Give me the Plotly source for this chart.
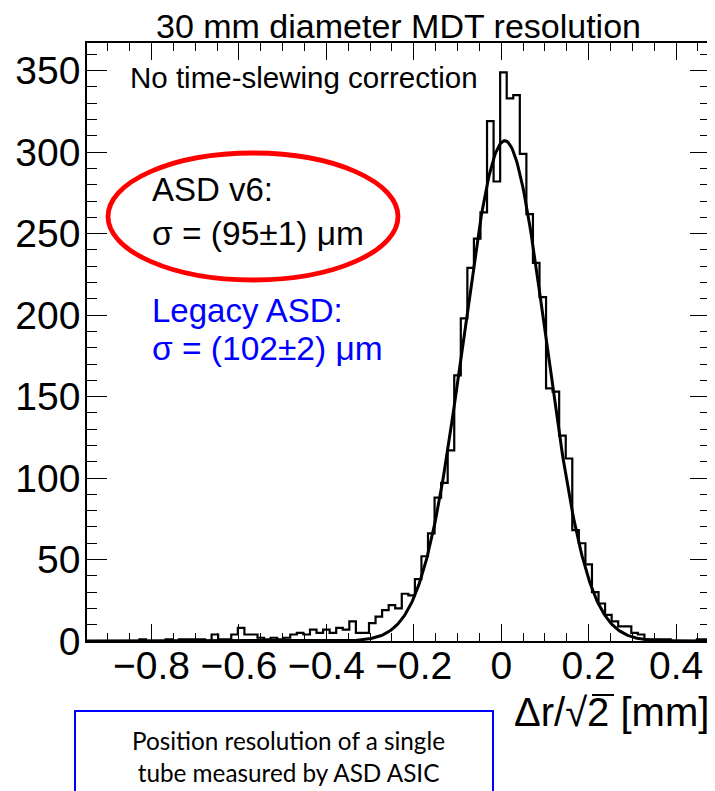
import numpy as np
import plotly.graph_objects as go

# ---------------- data ----------------
bin_low = -0.9475          # lower edge of first bin [mm]
bin_width = 0.015          # bin width [mm]
counts = [
    0, 0, 0, 0, 0, 0, 0, 0, 1, 0,
    0, 0, 1, 0, 1, 1, 1, 1, 0, 4,
    1, 1, 4, 8, 4, 4, 2, 1, 2, 1,
    2, 4, 5, 4, 7, 5, 7, 5, 8, 7,
    12, 5, 5, 11, 15, 19, 22, 20, 29, 28,
    38, 52, 66, 88, 97, 117, 163, 198, 229, 247,
    263, 319, 282, 349, 333, 335, 299, 262, 232, 211,
    155, 153, 126, 112, 68, 60, 47, 30, 23, 16,
    12, 9, 9, 5, 4, 1, 1, 1, 1, 0,
    0, 0, 0, 1, 1,
]
# Gaussian fit parameters
fit_amp = 307.0
fit_mean = 0.008     # mm
fit_sigma = 0.094    # mm

x_ticks = [-0.8, -0.6, -0.4, -0.2, 0, 0.2, 0.4]
x_tick_labels = ["\u22120.8", "\u22120.6", "\u22120.4", "\u22120.2", "0", "0.2", "0.4"]
y_ticks = [0, 50, 100, 150, 200, 250, 300, 350]

title_text = "30 mm diameter MDT resolution"
note_text = "No time-slewing correction"
asd_v6 = ["ASD v6:", "σ = (95±1) μm"]
legacy = ["Legacy ASD:", "σ = (102±2) μm"]
caption = "Position resolution of a single<br>tube measured by ASD ASIC"
x_title = "Δr/√2 [mm]"

# ---------------- figure ----------------
n = len(counts)
edges = bin_low + bin_width * np.arange(n + 1)
step_y = list(counts) + [counts[-1]]

xfit = np.linspace(edges[0], edges[-1], 600)
yfit = fit_amp * np.exp(-0.5 * ((xfit - fit_mean) / fit_sigma) ** 2)

fig = go.Figure()
fig.add_trace(go.Scatter(x=edges, y=step_y, mode="lines", line=dict(shape="hv", color="black", width=2.2),
                         hoverinfo="skip", showlegend=False))
fig.add_trace(go.Scatter(x=xfit, y=yfit, mode="lines", line=dict(color="black", width=3),
                         hoverinfo="skip", showlegend=False))

FONT = "Liberation Sans, Arial, Helvetica, sans-serif"
OFF = 8                      # page body margin of the rendered html
W, H = 715 - OFF, 791 - OFF
# plot frame in page pixels: x 87..710, y 43..641
FX0, FX1, FY0, FY1 = 87, 710, 43, 641
L, R, T, B = FX0 - OFF, (W + OFF) - FX1, FY0 - OFF, (H + OFF) - FY1


def px(xp):
    return (xp - FX0) / (FX1 - FX0)


def py(yp):
    return (FY1 - yp) / (FY1 - FY0)


fig.update_layout(
    width=W, height=H,
    margin=dict(l=L, r=R, t=T, b=B, pad=0, autoexpand=False),
    paper_bgcolor="white", plot_bgcolor="white",
    font=dict(family=FONT, color="black"),
    showlegend=False,
)
fig.update_xaxes(
    range=[edges[0], edges[-1]], tickvals=x_ticks, ticktext=x_tick_labels,
    showgrid=False, zeroline=False, automargin=False,
    showline=True, linecolor="black", linewidth=1.5, mirror="allticks",
    ticks="inside", ticklen=17, tickwidth=1.3, tickcolor="black",
    ticklabelstandoff=-11,
    minor=dict(ticks="inside", ticklen=8.5, dtick=0.05, tick0=0, tickwidth=1.3, tickcolor="black", showgrid=False),
    tickfont=dict(size=39, family=FONT, color="black"),
)
fig.update_yaxes(
    range=[0, 367], tickvals=y_ticks, showgrid=False, zeroline=False, automargin=False,
    showline=True, linecolor="black", linewidth=1.5, mirror="allticks",
    ticks="inside", ticklen=20, tickwidth=1.3, tickcolor="black",
    ticklabelstandoff=-3,
    minor=dict(ticks="inside", ticklen=10, dtick=10, tick0=0, tickwidth=1.3, tickcolor="black", showgrid=False),
    tickfont=dict(size=39, family=FONT, color="black"),
)

ann = []
ann.append(dict(text=title_text, xref="paper", yref="paper", x=px(398), y=py(26),
                xanchor="center", yanchor="middle", showarrow=False, font=dict(size=34, family=FONT)))
ann.append(dict(text=note_text, xref="paper", yref="paper", x=px(128), y=py(78),
                xanchor="left", yanchor="middle", showarrow=False, font=dict(size=29.5, family=FONT)))
ann.append(dict(text=asd_v6[0], xref="paper", yref="paper", x=px(150), y=py(190),
                xanchor="left", yanchor="middle", showarrow=False, font=dict(size=33, family=FONT, color="black")))
ann.append(dict(text=asd_v6[1], xref="paper", yref="paper", x=px(150), y=py(233),
                xanchor="left", yanchor="middle", showarrow=False, font=dict(size=33.5, family=FONT, color="black")))
ann.append(dict(text=legacy[0], xref="paper", yref="paper", x=px(150), y=py(310),
                xanchor="left", yanchor="middle", showarrow=False, font=dict(size=33, family=FONT, color="#0000ff")))
ann.append(dict(text=legacy[1], xref="paper", yref="paper", x=px(150), y=py(348),
                xanchor="left", yanchor="middle", showarrow=False, font=dict(size=33.5, family=FONT, color="#0000ff")))
ann.append(dict(text=x_title, xref="paper", yref="paper", x=px(711), y=py(712),
                xanchor="right", yanchor="middle", showarrow=False, font=dict(size=40, family=FONT)))
ann.append(dict(text=caption, xref="paper", yref="paper", x=px(288), y=py(756),
                xanchor="center", yanchor="middle", showarrow=False, align="center",
                font=dict(size=24.3, family="Lato, Liberation Sans, sans-serif", color="black")))
fig.update_layout(annotations=ann)

# red ellipse around the ASD v6 result
fig.add_shape(type="circle", xref="paper", yref="paper",
              x0=px(108), x1=px(398), y0=py(280), y1=py(153),
              line=dict(color="#ff0000", width=4.8))
# blue caption box
fig.add_shape(type="rect", xref="paper", yref="paper",
              x0=px(75), x1=px(493), y0=py(711), y1=py(800),
              line=dict(color="#0000ff", width=2))
# vinculum of the square-root sign in the axis title
fig.add_shape(type="line", xref="paper", yref="paper",
              x0=px(592), x1=px(614), y0=py(695), y1=py(695),
              line=dict(color="black", width=2))

fig.write_html("out.html")
